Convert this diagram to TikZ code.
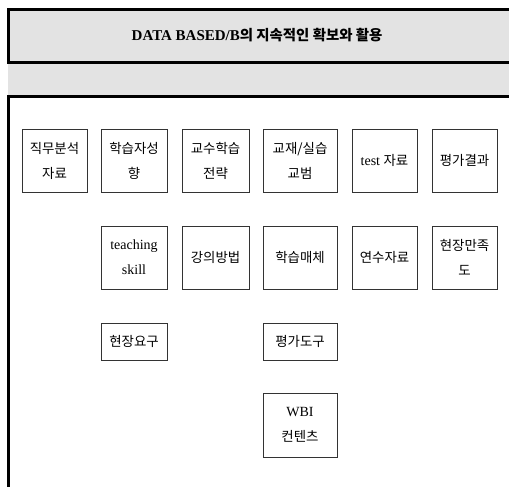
\documentclass[tikz,border=0pt]{standalone}
\usepackage{fontspec}
\setmainfont{Liberation Serif}
\newfontfamily\kr{Noto Sans CJK KR}[Scale=0.96]
\tikzset{
  itembox/.style={draw=black!80, line width=0.8pt, fill=white, inner sep=0pt,
    align=center, font=\fontsize{14pt}{25pt}\selectfont},
  frame/.style={draw=black, line width=2.6pt},
}
\begin{document}
\begin{tikzpicture}[x=1pt,y=-1pt]
\useasboundingbox (0,0) rectangle (509,487);
\begin{scope}
\clip (0,0) rectangle (509,487);
\fill[black!11] (8,8) rectangle (520,95);
\node[frame, fill=black!11, minimum width=520pt, minimum height=53pt, anchor=north west, inner sep=0pt] (title) at (7,8) {};
\node[font=\fontsize{15pt}{18pt}\selectfont\bfseries] (titletext) at (257,35) {DATA BASED/B{\kr 의 지속적인 확보와 활용}};
\node[frame, fill=white, minimum width=520pt, minimum height=420pt, anchor=north west, inner sep=0pt] (main) at (7,95.5) {};
\end{scope}
% row 1
\node[itembox, minimum width=65pt, minimum height=63pt] (a1) at (54.5,160.5) {{\kr 직무분석}\\{\kr 자료}};
\node[itembox, minimum width=66pt, minimum height=63pt] (b1) at (134,160.5) {{\kr 학습자성}\\{\kr 향}};
\node[itembox, minimum width=67pt, minimum height=63pt] (c1) at (215.5,160.5) {{\kr 교수학습}\\{\kr 전략}};
\node[itembox, minimum width=74pt, minimum height=63pt] (d1) at (300,160.5) {{\kr 교재/실습}\\{\kr 교범}};
\node[itembox, minimum width=65pt, minimum height=63pt] (e1) at (384.5,160.5) {test {\kr 자료}};
\node[itembox, minimum width=65pt, minimum height=63pt] (f1) at (464.5,160.5) {{\kr 평가결과}};
% row 2
\node[itembox, minimum width=66pt, minimum height=63pt] (b2) at (134,257.5) {teaching\\skill};
\node[itembox, minimum width=67pt, minimum height=63pt] (c2) at (215.5,257.5) {{\kr 강의방법}};
\node[itembox, minimum width=74pt, minimum height=63pt] (d2) at (300,257.5) {{\kr 학습매체}};
\node[itembox, minimum width=65pt, minimum height=63pt] (e2) at (384.5,257.5) {{\kr 연수자료}};
\node[itembox, minimum width=65pt, minimum height=63pt] (f2) at (464.5,257.5) {{\kr 현장만족}\\{\kr 도}};
% row 3
\node[itembox, minimum width=66pt, minimum height=37pt] (b3) at (134,341.5) {{\kr 현장요구}};
\node[itembox, minimum width=74pt, minimum height=37pt] (d3) at (300,341.5) {{\kr 평가도구}};
% row 4
\node[itembox, minimum width=74pt, minimum height=64pt] (d4) at (300,425) {WBI\\{\kr 컨텐츠}};
\end{tikzpicture}
\end{document}
